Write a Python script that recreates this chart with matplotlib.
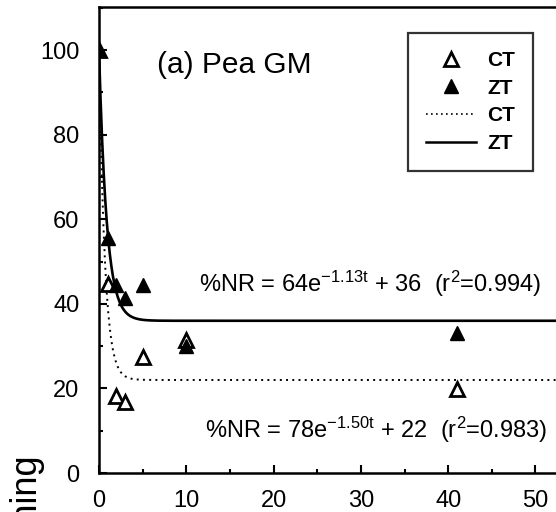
import numpy as np
import matplotlib
matplotlib.use("Agg")
import matplotlib.pyplot as plt
from matplotlib.lines import Line2D
from matplotlib.ticker import MultipleLocator

plt.rcParams['font.family'] = ['Liberation Sans', 'DejaVu Sans']
plt.rcParams['mathtext.default'] = 'regular'

# data
days_ct = [0, 1, 2, 3, 5, 10, 41]
ct_values = [100, 44.7, 18.3, 16.9, 27.4, 31.5, 19.8]
days_zt = [0, 1, 2, 3, 5, 10, 41]
zt_values = [100, 55.5, 44.5, 41.4, 44.4, 30.0, 33.1]

# fitted model parameters  %NR = a*exp(-k t) + c
ct_fit = (78, 1.50, 22)
zt_fit = (64, 1.13, 36)

title = "(a) Pea GM"
eq_zt = r"%NR = 64e$^{-1.13t}$ + 36  (r$^{2}$=0.994)"
eq_ct = r"%NR = 78e$^{-1.50t}$ + 22  (r$^{2}$=0.983)"
ylabel = "% N Remaining"

fig = plt.figure(figsize=(5.56, 5.12), dpi=100)
ax = fig.add_axes([99/556, 1-473/512, 1-99/556, (473-7)/512])

t = np.linspace(0, 53, 600)
ax.plot(t, ct_fit[0]*np.exp(-ct_fit[1]*t)+ct_fit[2], color='black', lw=1.4,
        linestyle=(0, (1, 2.2)))
ax.plot(t, zt_fit[0]*np.exp(-zt_fit[1]*t)+zt_fit[2], color='black', lw=1.9)
ax.plot(days_ct, ct_values, linestyle='none', marker='^', ms=10.5, mfc='white',
        mec='black', mew=2, zorder=3)
ax.plot(days_zt, zt_values, linestyle='none', marker='^', ms=10.5, mfc='black',
        mec='black', mew=1, zorder=4)

ax.set_xlim(0, 52.35)
ax.set_ylim(0, 110.2)
ax.xaxis.set_major_locator(MultipleLocator(10))
ax.xaxis.set_minor_locator(MultipleLocator(5))
ax.yaxis.set_major_locator(MultipleLocator(20))
ax.yaxis.set_minor_locator(MultipleLocator(10))
ax.tick_params(which='both', direction='in', labelsize=17, width=1.5)
ax.tick_params(which='major', length=6)
ax.tick_params(which='minor', length=3)
ax.tick_params(axis='x', pad=12)
ax.tick_params(axis='y', pad=14)
ax.spines['right'].set_visible(False)
for s in ['left', 'bottom', 'top']:
    ax.spines[s].set_linewidth(1.8)

ax.text(6.64, 94.6, title, fontsize=21.5, va='baseline', ha='left')
ax.text(11.5, 42.8, eq_zt, fontsize=17, va='baseline', ha='left')
ax.text(12.1, 8.3, eq_ct, fontsize=17, va='baseline', ha='left')

handles = [
    Line2D([], [], linestyle='none', marker='^', ms=10, mfc='white', mec='black', mew=2),
    Line2D([], [], linestyle='none', marker='^', ms=10, mfc='black', mec='black'),
    Line2D([], [], color='black', lw=1.2, linestyle=(0, (1, 2))),
    Line2D([], [], color='black', lw=1.8),
]
leg = ax.legend(handles, ['CT', 'ZT', 'CT', 'ZT'], loc='upper left',
                bbox_to_anchor=(0.676, 0.944), borderaxespad=0,
                frameon=True, fancybox=False,
                edgecolor='black', numpoints=1, handlelength=2.4,
                handletextpad=0.55, labelspacing=0.42, borderpad=0.85,
                prop={'size': 15, 'weight': 'bold'})
leg.get_frame().set_linewidth(1.6)

fig.text(28/556, 1-455/512, ylabel, rotation=90, ha='center', va='top',
         fontsize=26)

fig.savefig("out.png", dpi=100)
